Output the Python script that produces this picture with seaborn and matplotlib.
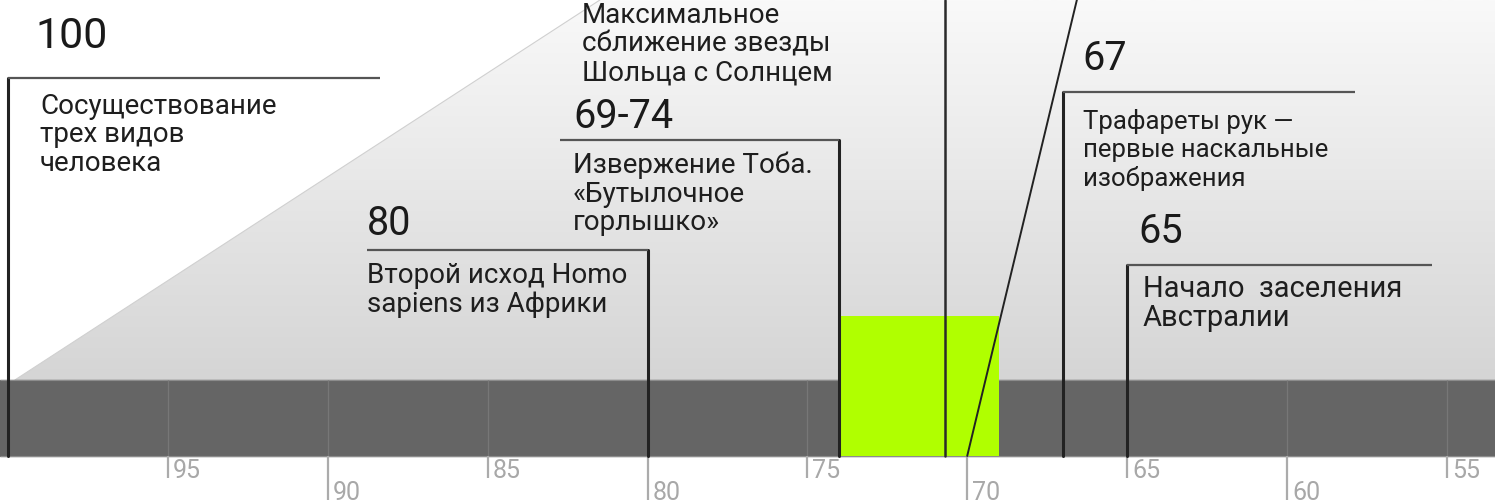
import numpy as np
import pandas as pd
import matplotlib
matplotlib.use("Agg")
import matplotlib.pyplot as plt
from matplotlib.colors import LinearSegmentedColormap
from matplotlib.patches import Polygon
import seaborn as sns

# ---------------- data ----------------
tick_values = [95, 90, 85, 80, 75, 70, 65, 60, 55]
event_years = [100, 80, 74, 67, 65]
event_labels = ["100", "80", "69-74", "67", "65"]
event_texts = [
    "Сосуществование\nтрех видов\nчеловека",
    "Второй исход Homo\nsapiens из Африки",
    "Извержение Тоба.\n«Бутылочное\nгорлышко»",
    "Трафареты рук —\nпервые наскальные\nизображения",
    "Начало  заселения\nАвстралии",
]
toba_start, toba_end = 74, 69
scholz_year = 70.7
scholz_text = "Максимальное\nсближение звезды\nШольца с Солнцем"
pointer_years = [70, 66.57]

# ---------------- layout ----------------
X_LEFT, X_RIGHT = 100.255, 53.49
BAND_TOP, BAND_BOT = 380, 456
GREEN_TOP = 316
PITCH = 28.5
callout_y = [78, 250, 140, 92, 265]
callout_far = [88.37, 88.78, 82.74, 57.87, 55.46]
num_x = [99.16, 88.78, 82.33, 66.41, 64.66]
num_base = [48, 235, 128, 70, 243]
num_size = [31, 28.5, 28.5, 28.5, 28.5]
desc_x = [99.0, 88.78, 82.33, 66.38, 64.50]
desc_base = [114, 283, 173, 129, 297]
desc_size = [20, 20, 20, 18.5, 21]
scholz_x, scholz_base, scholz_size = 82.05, 23, 20
diag_bottom_year, diag_top_year = 99.79, 81.49

sns.set_theme(style="white")
plt.rcParams["font.family"] = ["Roboto", "DejaVu Sans"]

fig = plt.figure(figsize=(14.95, 5.03), dpi=100)
ax = fig.add_axes([0, 0, 1, 1])

# gradient background clipped to the area under the diagonal
cmap = LinearSegmentedColormap.from_list("bg", ["#f9f9f9", "#d5d5d5"])
grad = np.linspace(0, 1, 256).reshape(-1, 1)
im = ax.imshow(grad, extent=(X_LEFT, X_RIGHT, BAND_TOP, 0), origin="upper",
               aspect="auto", cmap=cmap, zorder=0)
poly = Polygon([(diag_bottom_year, BAND_TOP), (diag_top_year, 0),
                (X_RIGHT, 0), (X_RIGHT, BAND_TOP)], closed=True,
               transform=ax.transData, facecolor="none", edgecolor="none")
ax.add_patch(poly)
im.set_clip_path(poly)
ax.plot([diag_bottom_year, diag_top_year], [BAND_TOP, 0], color="#d0d0d0",
        lw=0.8, zorder=0.5)

# dark timeline band
ax.axhspan(BAND_TOP, BAND_BOT, color="#656565", zorder=1)
ax.hlines([BAND_TOP, BAND_BOT], X_LEFT, X_RIGHT, color="#8c8c8c", lw=0.8, zorder=1.1)
ax.vlines(tick_values, BAND_TOP, BAND_BOT, color="#777777", lw=0.9, zorder=1.2)

# Toba highlight
ax.fill_betweenx([GREEN_TOP, BAND_BOT], toba_start, toba_end, color="#b0ff00",
                 lw=0, zorder=2)

# axis ticks below band
for i, t in enumerate(tick_values):
    long = i % 2 == 1
    y_end = 500 if long else 478
    ax.vlines(t, BAND_BOT, y_end, color="#ababab", lw=1.6, zorder=3)
    ax.text(t - 0.16, y_end, str(t), color="#a8a8a8", fontsize=18,
            ha="left", va="baseline", zorder=3)

# event stems via seaborn
stems = pd.DataFrame({
    "year": [y for y in event_years for _ in range(2)],
    "h": [v for cy in callout_y for v in (cy, BAND_BOT)],
    "ev": [e for e in event_labels for _ in range(2)],
})
sns.lineplot(data=stems, x="year", y="h", units="ev", estimator=None,
             sort=False, color="#222222", lw=2.2, legend=False, ax=ax, zorder=4)

# callout horizontals
for yr, cy, far in zip(event_years, callout_y, callout_far):
    ax.plot([yr, far], [cy, cy], color="#555555", lw=1.6, zorder=4,
            solid_capstyle="butt")

# Scholz star line and pointer diagonal
ax.plot([scholz_year, scholz_year], [0, BAND_BOT], color="#2a2a2a", lw=1.8, zorder=4)
ax.plot(pointer_years, [BAND_BOT, 0], color="#222222", lw=1.4, zorder=4)


def put_lines(x, base, txt, size):
    for k, line in enumerate(txt.split("\n")):
        ax.text(x, base + k * PITCH, line, fontsize=size, color="#1e1e1e",
                ha="left", va="baseline", zorder=5)


# labels
for lab, x, b, s in zip(event_labels, num_x, num_base, num_size):
    ax.text(x, b, lab, fontsize=s, color="#1a1a1a", ha="left", va="baseline", zorder=5)
for txt, x, b, s in zip(event_texts, desc_x, desc_base, desc_size):
    put_lines(x, b, txt, s)
put_lines(scholz_x, scholz_base, scholz_text, scholz_size)

ax.set_xlim(X_LEFT, X_RIGHT)
ax.set_ylim(503, 0)
ax.axis("off")

fig.savefig("out.png", dpi=100, facecolor="white")
